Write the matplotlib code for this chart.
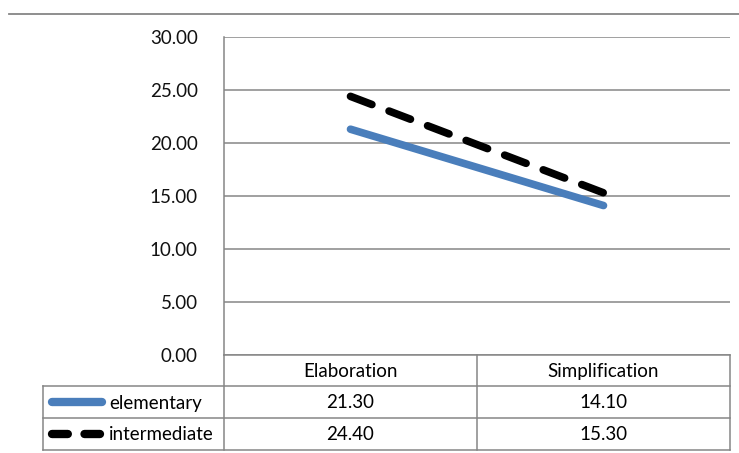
import matplotlib.pyplot as plt
from matplotlib.lines import Line2D

# данные
categories = ['Elaboration', 'Simplification']
series_names = ['elementary', 'intermediate']
elementary = [21.30, 14.10]
intermediate = [24.40, 15.30]
y_ticks = [0, 5, 10, 15, 20, 25, 30]

W, H = 739, 453
GRID = '#868686'
BLUE = '#4A7EBB'

plt.rcParams['font.family'] = ['Lato', 'DejaVu Sans']
plt.rcParams['font.size'] = 13.5

fig = plt.figure(figsize=(W / 100, H / 100), dpi=100)

# область графика в пикселях
left, right, top, bottom = 224, 730, 37, 355
ax = fig.add_axes([left / W, 1 - bottom / H, (right - left) / W, (bottom - top) / H])

x = list(range(len(categories)))
ax.plot(x, elementary, color=BLUE, lw=5.5, solid_capstyle='round', zorder=3)
ax.plot(x, intermediate, color='black', lw=5.5, dashes=(3.0, 2.4),
        dash_capstyle='round', zorder=4)

ax.set_xlim(-0.5, len(categories) - 0.5)
ax.set_ylim(0, 30)
ax.set_yticks(y_ticks)
ax.set_yticklabels([f'{v:.2f}' for v in y_ticks])
ax.set_xticks([])
ax.tick_params(axis='y', length=0, pad=19, labelcolor='#111111')
ax.grid(axis='y', color=GRID, lw=1.1)
ax.set_axisbelow(True)
for s in ['top', 'right']:
    ax.spines[s].set_visible(False)
ax.spines['left'].set_color(GRID)
ax.spines['bottom'].set_color(GRID)
ax.spines['left'].set_linewidth(1.1)
ax.spines['bottom'].set_linewidth(1.1)

# таблица данных под графиком (в пиксельных координатах)
tab = fig.add_axes([0, 0, 1, 1], zorder=5)
tab.set_xlim(0, W)
tab.set_ylim(H, 0)
tab.axis('off')
tab.patch.set_alpha(0)

t_left = 43
rows_y = [355, 386, 418, 450]
mid = (left + right) / 2
col_x = [left, mid, right]

for yy in rows_y[1:]:
    tab.plot([t_left, right], [yy, yy], color=GRID, lw=1.1)
for xx in col_x:
    tab.plot([xx, xx], [rows_y[0], rows_y[-1]], color=GRID, lw=1.1)
tab.plot([t_left, t_left], [rows_y[1], rows_y[-1]], color=GRID, lw=1.1)

# заголовки столбцов
for i, cat in enumerate(categories):
    cx = (col_x[i] + col_x[i + 1]) / 2
    tab.text(cx, (rows_y[0] + rows_y[1]) / 2 + 1, cat, ha='center', va='center')

# строки: легенда + значения
series = [elementary, intermediate]
samples = [(52, 102, dict(color=BLUE, solid_capstyle='round')),
           (52, 100, dict(color='black', dashes=(1.9, 2.0), dash_capstyle='round'))]
for r, (name, vals, (x0, x1, st)) in enumerate(zip(series_names, series, samples)):
    cy = (rows_y[r + 1] + rows_y[r + 2]) / 2
    tab.add_line(Line2D([x0, x1], [cy, cy], lw=6, **st))
    tab.text(109, cy + 1, name, ha='left', va='center')
    for i, v in enumerate(vals):
        cx = (col_x[i] + col_x[i + 1]) / 2
        tab.text(cx, cy + 1, f'{v:.2f}', ha='center', va='center')

# верхняя линия рамки
tab.plot([9, W], [14, 14], color=GRID, lw=1.3)

fig.savefig('out.png', dpi=100)
